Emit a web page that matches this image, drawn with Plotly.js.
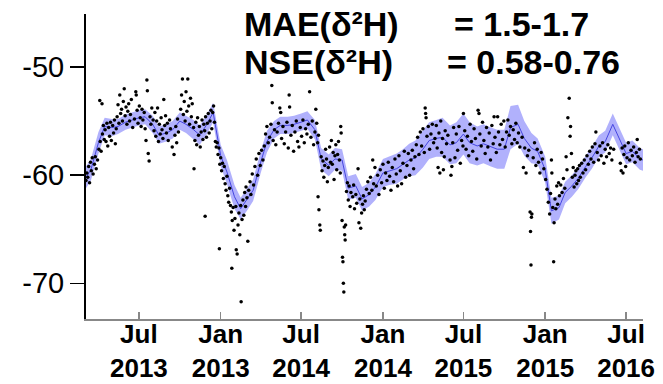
<!DOCTYPE html>
<html>
<head>
<meta charset="utf-8">
<script src="https://cdn.plot.ly/plotly-3.0.1.min.js"></script>
<style>html,body{margin:0;padding:0;background:#fff;}#chart{width:663px;height:384px;}</style>
</head>
<body>
<div id="chart"></div>
<script>
// ---- Model band (semi-monthly): dates, central value, half-width ----
const bandDates = [
 '2013-03-04','2013-03-15','2013-04-01','2013-04-15','2013-05-01','2013-05-15','2013-06-01','2013-06-15','2013-07-01','2013-07-15',
 '2013-08-01','2013-08-15','2013-09-01','2013-09-15','2013-10-01','2013-10-15','2013-11-01','2013-11-15','2013-12-01','2013-12-15',
 '2014-01-01','2014-01-15','2014-02-01','2014-02-15','2014-03-01','2014-03-15','2014-04-01','2014-04-15','2014-05-01','2014-05-15',
 '2014-06-01','2014-06-15','2014-07-01','2014-07-15','2014-08-01','2014-08-15','2014-09-01','2014-09-15','2014-10-01','2014-10-15',
 '2014-11-01','2014-11-15','2014-12-01','2014-12-15',
 '2015-01-01','2015-01-15','2015-02-01','2015-02-15','2015-03-01','2015-03-15','2015-04-01','2015-04-15','2015-05-01','2015-05-15',
 '2015-06-01','2015-06-15','2015-07-01','2015-07-15','2015-08-01','2015-08-15','2015-09-01','2015-09-15','2015-10-01','2015-10-15',
 '2015-11-01','2015-11-15','2015-12-01','2015-12-15',
 '2016-01-01','2016-01-15','2016-02-01','2016-02-15','2016-03-01','2016-03-15','2016-04-01','2016-04-15','2016-05-01','2016-05-15',
 '2016-06-01','2016-06-15','2016-07-01','2016-07-15','2016-08-01','2016-08-08'
];
const bandCenter = [
 -60.2,-59.5,-57.0,-55.5,-55.6,-55.5,-55.1,-54.9,-54.7,-54.6,
 -55.3,-56.3,-56.1,-55.8,-55.0,-55.3,-55.8,-56.3,-55.3,-54.2,
 -58.2,-59.7,-62.0,-63.1,-62.3,-61.4,-58.8,-56.9,-55.8,-55.4,
 -55.4,-55.3,-55.1,-54.9,-55.8,-58.5,-59.1,-58.5,-58.6,-61.2,
 -61.0,-62.2,-61.8,-61.1,
 -59.8,-59.6,-59.4,-59.0,-58.6,-58.4,-57.6,-56.8,-56.6,-56.5,
 -57.2,-57.0,-56.2,-57.0,-57.3,-57.1,-57.4,-57.6,-57.6,-55.6,
 -55.3,-56.6,-57.5,-57.8,
 -59.5,-63.3,-63.0,-61.6,-61.0,-60.3,-59.2,-58.4,-57.3,-56.9,
 -55.3,-56.6,-58.0,-57.8,-58.5,-58.6
];
const bandHalfWidth = [
 1.0,1.0,1.0,0.8,0.8,0.7,0.7,0.7,0.7,0.7,
 0.8,0.8,0.8,0.8,0.8,0.8,0.9,0.9,0.9,0.9,
 1.0,1.1,1.1,1.0,1.0,1.0,1.0,1.0,0.8,0.8,
 0.8,0.8,0.8,0.8,0.9,1.0,1.0,1.0,1.0,1.1,
 1.1,1.1,1.1,1.2,
 1.3,1.3,1.4,1.4,1.5,1.6,1.7,1.7,1.7,1.8,
 1.8,1.9,1.9,1.9,1.8,1.8,1.8,1.8,1.8,2.0,
 1.8,1.6,1.4,1.2,
 1.2,1.2,1.1,1.0,1.0,1.0,1.0,1.0,1.0,1.0,
 1.0,1.0,1.0,1.0,1.0,1.0
];

// ---- Observations [date, value] ----
const obs2013 = [
 ['2013-03-04',-60.5],['2013-03-06',-59.8],['2013-03-08',-60.2],['2013-03-10',-59.2],['2013-03-12',-60.7],['2013-03-14',-58.8],
 ['2013-03-16',-59.6],['2013-03-18',-58.4],['2013-03-20',-59.9],['2013-03-23',-59.0],['2013-03-25',-58.3],['2013-03-27',-59.4],
 ['2013-03-30',-58.6],['2013-04-02',-57.6],['2013-04-04',-53.1],['2013-04-05',-56.9],['2013-04-07',-57.8],['2013-04-09',-53.4],
 ['2013-04-10',-56.2],['2013-04-12',-55.4],['2013-04-14',-56.7],['2013-04-16',-55.8],['2013-04-18',-56.9],['2013-04-20',-55.2],
 ['2013-04-22',-57.3],['2013-04-24',-55.6],['2013-04-26',-56.4],['2013-04-28',-55.1],['2013-04-30',-56.8],['2013-05-03',-55.4],
 ['2013-05-05',-56.1],['2013-05-07',-54.9],['2013-05-09',-57.1],['2013-05-11',-55.7],['2013-05-13',-54.6],['2013-05-15',-53.5],
 ['2013-05-17',-55.2],['2013-05-19',-52.6],['2013-05-21',-54.3],['2013-05-23',-53.9],['2013-05-25',-55.0],['2013-05-27',-53.2],
 ['2013-05-29',-52.0],['2013-05-31',-54.5],['2013-06-02',-53.7],['2013-06-04',-55.3],['2013-06-06',-54.1],['2013-06-08',-53.4],
 ['2013-06-10',-55.0],['2013-06-12',-54.4],['2013-06-14',-53.0],['2013-06-17',-55.6],['2013-06-21',-54.8],['2013-06-24',-52.3],
 ['2013-06-25',-52.6],['2013-06-27',-54.0],['2013-06-29',-55.2],['2013-07-02',-53.6],['2013-07-04',-54.7],['2013-07-06',-55.5],
 ['2013-07-08',-53.9],['2013-07-10',-54.9],['2013-07-13',-54.2],['2013-07-15',-55.7],['2013-07-17',-56.8],['2013-07-19',-51.2],
 ['2013-07-20',-52.2],['2013-07-22',-58.0],['2013-07-24',-58.7],['2013-07-26',-54.6],['2013-07-28',-55.3],['2013-07-30',-53.8],
 ['2013-08-02',-54.9],['2013-08-04',-55.9],['2013-08-06',-54.2],['2013-08-08',-56.4],['2013-08-10',-55.0],['2013-08-12',-53.8],
 ['2013-08-14',-56.9],['2013-08-16',-55.3],['2013-08-18',-56.2],['2013-08-20',-54.7],['2013-08-22',-55.8],['2013-08-24',-56.6],
 ['2013-08-26',-53.0],['2013-08-28',-55.4],['2013-08-30',-54.5],['2013-09-01',-56.1],['2013-09-03',-55.2],['2013-09-05',-56.8],
 ['2013-09-08',-54.9],['2013-09-10',-55.7],['2013-09-14',-57.4],['2013-09-18',-58.1],['2013-09-20',-56.3],['2013-09-22',-55.5],
 ['2013-09-24',-57.0],['2013-09-26',-54.8],['2013-09-28',-56.0],['2013-10-03',-53.9],['2013-10-05',-52.6],['2013-10-07',-51.1],
 ['2013-10-09',-54.4],['2013-10-11',-53.2],['2013-10-13',-55.0],['2013-10-15',-52.3],['2013-10-17',-54.1],['2013-10-19',-51.1],
 ['2013-10-21',-53.6],['2013-10-23',-55.3],['2013-10-25',-52.9],['2013-10-27',-54.6],['2013-10-29',-53.4],['2013-11-01',-55.6],
 ['2013-11-02',-59.4],['2013-11-04',-56.8],['2013-11-06',-55.1],['2013-11-08',-57.2],['2013-11-10',-54.7],['2013-11-12',-56.3],
 ['2013-11-14',-55.5],['2013-11-16',-57.4],['2013-11-18',-56.0],['2013-11-20',-54.9],['2013-11-22',-56.7],['2013-11-24',-55.3],
 ['2013-11-26',-55.9],['2013-11-27',-63.8],['2013-11-28',-54.6],['2013-11-30',-56.5],['2013-12-02',-55.2],['2013-12-04',-54.3],
 ['2013-12-06',-56.1],['2013-12-08',-55.0],['2013-12-10',-54.0],['2013-12-12',-55.7],['2013-12-14',-54.2],['2013-12-16',-53.6],
 ['2013-12-18',-55.1],['2013-12-20',-56.9],['2013-12-22',-57.4],['2013-12-24',-57.0],['2013-12-26',-58.1],['2013-12-28',-57.5],
 ['2013-12-29',-66.8],['2013-12-30',-59.0]
];
const obs2014 = [
 ['2014-01-01',-58.4],['2014-01-03',-59.6],['2014-01-05',-58.9],['2014-01-07',-60.3],['2014-01-09',-59.2],['2014-01-11',-60.8],
 ['2014-01-13',-61.4],['2014-01-15',-60.1],['2014-01-17',-61.9],['2014-01-19',-62.5],['2014-01-21',-61.2],['2014-01-23',-62.8],
 ['2014-01-25',-63.4],['2014-01-26',-68.6],['2014-01-27',-64.2],['2014-01-29',-63.0],['2014-01-31',-65.1],['2014-02-02',-64.0],
 ['2014-02-04',-62.9],['2014-02-05',-66.9],['2014-02-07',-67.3],['2014-02-09',-64.6],['2014-02-11',-63.5],['2014-02-13',-65.5],
 ['2014-02-15',-62.8],['2014-02-16',-71.7],['2014-02-18',-64.1],['2014-02-20',-62.3],['2014-02-22',-63.7],['2014-02-24',-61.6],
 ['2014-02-26',-62.9],['2014-02-27',-61.1],['2014-03-01',-62.1],['2014-03-03',-66.1],['2014-03-05',-61.4],['2014-03-08',-60.6],
 ['2014-03-10',-61.8],['2014-03-13',-59.9],['2014-03-16',-60.9],['2014-03-19',-59.2],['2014-03-22',-58.5],['2014-03-25',-60.0],
 ['2014-03-28',-58.0],['2014-03-31',-59.1],['2014-04-03',-57.7],['2014-04-06',-58.6],['2014-04-09',-57.3],['2014-04-12',-56.2],
 ['2014-04-15',-55.5],['2014-04-18',-57.0],['2014-04-21',-56.5],['2014-04-24',-55.3],['2014-04-26',-51.7],['2014-04-27',-53.3],
 ['2014-04-29',-56.8],['2014-05-02',-55.8],['2014-05-05',-57.2],['2014-05-08',-56.0],['2014-05-11',-55.2],['2014-05-14',-53.8],
 ['2014-05-16',-54.2],['2014-05-18',-56.6],['2014-05-21',-55.5],['2014-05-24',-57.1],['2014-05-27',-56.0],['2014-05-30',-55.1],
 ['2014-06-02',-57.5],['2014-06-04',-52.6],['2014-06-05',-53.7],['2014-06-08',-56.3],['2014-06-11',-55.4],['2014-06-14',-57.8],
 ['2014-06-17',-56.0],['2014-06-20',-55.0],['2014-06-23',-56.9],['2014-06-26',-57.4],['2014-06-29',-55.6],['2014-07-02',-56.4],
 ['2014-07-05',-54.9],['2014-07-08',-57.0],['2014-07-11',-55.7],['2014-07-14',-56.2],['2014-07-17',-55.3],['2014-07-20',-52.3],
 ['2014-07-23',-56.5],['2014-07-26',-55.0],['2014-07-29',-57.2],['2014-08-01',-56.0],['2014-08-03',-53.9],['2014-08-05',-55.2],
 ['2014-08-07',-57.0],['2014-08-08',-62.0],['2014-08-09',-56.3],['2014-08-10',-63.2],['2014-08-12',-64.6],['2014-08-13',-65.1],
 ['2014-08-15',-58.3],['2014-08-17',-59.6],['2014-08-19',-58.7],['2014-08-21',-60.2],['2014-08-23',-59.1],['2014-08-25',-57.6],
 ['2014-08-27',-58.5],['2014-08-29',-60.6],['2014-08-31',-59.3],['2014-09-03',-57.4],['2014-09-05',-58.8],['2014-09-07',-56.8],
 ['2014-09-09',-59.0],['2014-09-11',-57.9],['2014-09-13',-60.4],['2014-09-15',-58.2],['2014-09-17',-57.2],['2014-09-19',-59.5],
 ['2014-09-21',-58.1],['2014-09-23',-56.9],['2014-09-25',-58.6],['2014-09-27',-59.8],['2014-09-28',-55.5],['2014-09-29',-56.1],
 ['2014-10-01',-64.2],['2014-10-02',-67.6],['2014-10-03',-68.0],['2014-10-04',-70.0],['2014-10-05',-70.8],['2014-10-06',-64.8],
 ['2014-10-07',-65.5],['2014-10-08',-66.0],['2014-10-09',-64.6],['2014-10-11',-61.5],['2014-10-13',-60.7],['2014-10-15',-62.3],
 ['2014-10-17',-61.0],['2014-10-19',-62.9],['2014-10-21',-61.6],['2014-10-25',-62.0],['2014-10-27',-60.9],['2014-10-29',-63.1],
 ['2014-11-01',-61.8],['2014-11-03',-62.6],['2014-11-06',-59.4],['2014-11-08',-64.4],['2014-11-10',-62.2],['2014-11-12',-64.9],
 ['2014-11-14',-63.5],['2014-11-16',-62.7],['2014-11-18',-61.9],['2014-11-20',-63.2],['2014-11-22',-62.4],['2014-11-25',-61.3],
 ['2014-11-28',-60.6],['2014-12-01',-61.7],['2014-12-04',-60.2],['2014-12-07',-61.4],['2014-12-09',-58.6],['2014-12-11',-60.8],
 ['2014-12-14',-59.3],['2014-12-17',-61.0],['2014-12-20',-60.0],['2014-12-23',-61.8],['2014-12-26',-59.5],['2014-12-29',-60.7]
];
const obs2015 = [
 ['2015-01-01',-59.0],['2015-01-04',-61.2],['2015-01-07',-59.8],['2015-01-10',-60.5],['2015-01-13',-58.8],['2015-01-16',-60.1],
 ['2015-01-19',-61.4],['2015-01-22',-59.3],['2015-01-25',-60.6],['2015-01-28',-58.5],['2015-01-31',-59.9],['2015-02-03',-61.0],
 ['2015-02-06',-58.2],['2015-02-09',-59.6],['2015-02-12',-60.8],['2015-02-15',-58.9],['2015-02-18',-57.8],['2015-02-21',-60.2],
 ['2015-02-24',-59.1],['2015-02-27',-58.0],['2015-03-02',-60.0],['2015-03-05',-58.6],['2015-03-08',-57.7],['2015-03-11',-59.4],
 ['2015-03-14',-58.3],['2015-03-17',-57.2],['2015-03-20',-56.5],['2015-03-23',-58.1],['2015-03-26',-56.0],['2015-03-29',-57.3],
 ['2015-04-01',-55.7],['2015-04-04',-57.9],['2015-04-06',-53.8],['2015-04-07',-54.3],['2015-04-08',-54.7],['2015-04-10',-56.4],
 ['2015-04-13',-55.5],['2015-04-16',-57.6],['2015-04-19',-56.2],['2015-04-22',-55.3],['2015-04-25',-57.0],['2015-04-28',-56.6],
 ['2015-05-01',-55.4],['2015-05-03',-57.5],['2015-05-05',-59.3],['2015-05-07',-56.1],['2015-05-09',-59.8],['2015-05-11',-55.0],
 ['2015-05-13',-57.9],['2015-05-15',-56.6],['2015-05-17',-59.5],['2015-05-19',-58.3],['2015-05-21',-55.9],['2015-05-24',-57.1],
 ['2015-05-27',-56.3],['2015-06-01',-58.6],['2015-06-03',-60.0],['2015-06-05',-59.2],['2015-06-07',-57.0],['2015-06-09',-55.6],
 ['2015-06-12',-58.4],['2015-06-15',-56.2],['2015-06-18',-57.7],['2015-06-21',-55.5],['2015-06-24',-58.9],['2015-06-27',-56.8],
 ['2015-06-30',-57.3],['2015-07-01',-54.3],['2015-07-04',-55.9],['2015-07-07',-57.6],['2015-07-10',-56.4],['2015-07-13',-58.2],
 ['2015-07-16',-55.3],['2015-07-19',-56.9],['2015-07-22',-57.8],['2015-07-25',-55.7],['2015-07-28',-56.6],['2015-07-31',-58.5],
 ['2015-08-03',-54.0],['2015-08-05',-54.3],['2015-08-07',-56.2],['2015-08-10',-57.3],['2015-08-13',-55.1],['2015-08-16',-56.8],
 ['2015-08-19',-58.0],['2015-08-22',-55.6],['2015-08-25',-57.4],['2015-08-28',-56.1],['2015-08-31',-58.6],['2015-09-03',-55.4],
 ['2015-09-06',-57.1],['2015-09-08',-54.6],['2015-09-10',-56.5],['2015-09-13',-57.9],['2015-09-16',-54.6],['2015-09-18',-56.0],
 ['2015-09-21',-57.2],['2015-09-24',-55.3],['2015-09-27',-56.7],['2015-09-30',-55.0],['2015-10-03',-57.4],['2015-10-06',-56.0],
 ['2015-10-09',-54.9],['2015-10-12',-56.3],['2015-10-15',-55.5],['2015-10-18',-57.1],['2015-10-21',-55.8],['2015-10-24',-56.7],
 ['2015-10-27',-55.2],['2015-10-30',-57.0],['2015-11-02',-56.1],['2015-11-05',-57.4],['2015-11-10',-56.5],['2015-11-13',-59.3],
 ['2015-11-16',-57.5],['2015-11-19',-59.8],['2015-11-22',-58.2],['2015-11-25',-57.7],['2015-11-28',-63.4],['2015-11-29',-65.2],
 ['2015-11-30',-68.3],['2015-12-01',-63.9],['2015-12-02',-63.6],['2015-12-05',-58.4],['2015-12-08',-57.0],['2015-12-11',-59.1],
 ['2015-12-14',-57.6],['2015-12-17',-58.8],['2015-12-20',-59.8],['2015-12-23',-57.9],['2015-12-26',-58.5],['2015-12-29',-59.4]
];
const obs2016 = [
 ['2016-01-02',-60.4],['2016-01-05',-61.3],['2016-01-08',-62.5],['2016-01-11',-63.6],['2016-01-13',-61.7],['2016-01-15',-58.6],
 ['2016-01-16',-59.8],['2016-01-18',-63.0],['2016-01-20',-68.0],['2016-01-21',-64.4],['2016-01-23',-62.2],['2016-01-25',-63.1],
 ['2016-01-27',-61.0],['2016-01-29',-62.7],['2016-01-31',-60.7],['2016-02-02',-61.9],['2016-02-05',-60.9],['2016-02-08',-61.6],
 ['2016-02-11',-60.3],['2016-02-14',-61.2],['2016-02-17',-58.3],['2016-02-19',-59.5],['2016-02-21',-54.7],['2016-02-24',-52.9],
 ['2016-02-26',-56.4],['2016-02-27',-55.5],['2016-02-29',-58.0],['2016-03-02',-60.2],['2016-03-04',-59.3],['2016-03-06',-61.1],
 ['2016-03-08',-60.0],['2016-03-10',-59.6],['2016-03-12',-60.8],['2016-03-14',-59.4],['2016-03-16',-60.5],['2016-03-18',-59.1],
 ['2016-03-20',-60.2],['2016-03-23',-58.9],['2016-03-26',-59.8],['2016-03-29',-58.6],['2016-04-01',-59.5],['2016-04-04',-58.2],
 ['2016-04-07',-59.0],['2016-04-10',-57.8],['2016-04-13',-58.5],['2016-04-16',-57.4],['2016-04-19',-58.8],['2016-04-22',-57.1],
 ['2016-04-24',-56.0],['2016-04-27',-57.9],['2016-04-30',-58.6],['2016-05-03',-57.3],['2016-05-06',-58.2],['2016-05-09',-57.0],
 ['2016-05-12',-58.9],['2016-05-15',-57.6],['2016-05-18',-58.3],['2016-05-21',-57.2],['2016-05-24',-58.0],['2016-05-27',-57.5],
 ['2016-05-30',-58.6],['2016-06-03',-57.6],['2016-06-18',-58.9],['2016-06-20',-59.6],['2016-06-22',-57.5],['2016-06-24',-59.8],
 ['2016-06-26',-58.1],['2016-06-28',-57.3],['2016-06-30',-59.2],['2016-07-03',-58.4],['2016-07-06',-57.0],['2016-07-09',-58.6],
 ['2016-07-12',-57.7],['2016-07-15',-58.2],['2016-07-18',-57.4],['2016-07-21',-58.8],['2016-07-24',-57.9],['2016-07-26',-56.7],
 ['2016-07-28',-58.3],['2016-07-31',-57.6],['2016-08-02',-58.5]
];

// ---- Axis ticks ----
const xTickVals = ['2013-07-01','2014-01-01','2014-07-01','2015-01-01','2015-07-01','2016-01-01','2016-07-01'];
const xTickText = ['Jul<br>2013','Jan<br>2013','Jul<br>2014','Jan<br>2014','Jul<br>2015','Jan<br>2015','Jul<br>2016'];
const yTickVals = [-50, -60, -70];
const yTickText = ['-50', '-60', '-70'];

const obsAll = obs2013.concat(obs2014, obs2015, obs2016);
const upper = bandCenter.map((v, i) => v + bandHalfWidth[i]);
const lower = bandCenter.map((v, i) => v - bandHalfWidth[i]);

const traces = [
  {x: bandDates, y: upper, type: 'scatter', mode: 'lines', line: {width: 0, color: 'rgba(0,0,0,0)'}, hoverinfo: 'skip', showlegend: false},
  {x: bandDates, y: lower, type: 'scatter', mode: 'lines', line: {width: 0, color: 'rgba(0,0,0,0)'}, fill: 'tonexty', fillcolor: 'rgba(125,125,250,0.6)', hoverinfo: 'skip', showlegend: false},
  {x: bandDates, y: bandCenter, type: 'scatter', mode: 'lines', line: {width: 1, color: '#4646e0'}, showlegend: false},
  {x: obsAll.map(p => p[0]), y: obsAll.map(p => p[1]), type: 'scatter', mode: 'markers', marker: {color: '#000', size: 3.5}, showlegend: false}
];

const W = 557, H = 305;
const FONT = 'Liberation Sans, Arial, sans-serif';
const layout = {
  width: 663, height: 384,
  margin: {l: 86, r: 20, t: 14, b: 65, pad: 0},
  paper_bgcolor: '#fff', plot_bgcolor: '#fff',
  font: {family: FONT, color: '#000'},
  showlegend: false,
  xaxis: {
    type: 'date', range: ['2013-03-04', '2016-08-08'],
    tickmode: 'array', tickvals: xTickVals, ticktext: xTickText,
    ticks: 'inside', ticklen: 7, tickwidth: 1.5, tickcolor: '#888',
    ticklabelstandoff: -9,
    showline: true, linecolor: '#888', linewidth: 1.5,
    showgrid: false, zeroline: false,
    tickfont: {size: 26, family: FONT, weight: 'bold', color: '#000'}
  },
  yaxis: {
    range: [-73.3, -45.1],
    tickmode: 'array', tickvals: yTickVals, ticktext: yTickText,
    ticks: 'outside', ticklen: 14, tickwidth: 1.5, tickcolor: '#000',
    showline: true, linecolor: '#000', linewidth: 2,
    showgrid: false, zeroline: false,
    tickfont: {size: 29, family: FONT, color: '#000'}
  },
  annotations: [
    {xref: 'paper', yref: 'paper', x: (242 - 86) / W, y: (319 - 24) / H, xanchor: 'left', yanchor: 'middle', showarrow: false,
     text: 'MAE(δ²H)', font: {size: 34, family: FONT, weight: 'bold', color: '#000'}},
    {xref: 'paper', yref: 'paper', x: (452 - 86) / W, y: (319 - 24) / H, xanchor: 'left', yanchor: 'middle', showarrow: false,
     text: '= 1.5-1.7', font: {size: 34, family: FONT, weight: 'bold', color: '#000'}},
    {xref: 'paper', yref: 'paper', x: (242 - 86) / W, y: (319 - 62) / H, xanchor: 'left', yanchor: 'middle', showarrow: false,
     text: 'NSE(δ²H)', font: {size: 34, family: FONT, weight: 'bold', color: '#000'}},
    {xref: 'paper', yref: 'paper', x: (445 - 86) / W, y: (319 - 62) / H, xanchor: 'left', yanchor: 'middle', showarrow: false,
     text: '= 0.58-0.76', font: {size: 34, family: FONT, weight: 'bold', color: '#000'}}
  ]
};

Plotly.newPlot('chart', traces, layout, {staticPlot: true, displayModeBar: false});
</script>
</body>
</html>
